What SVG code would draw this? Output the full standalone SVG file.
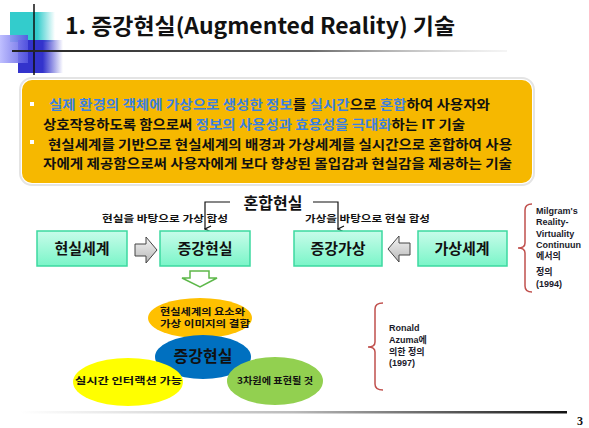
<svg xmlns="http://www.w3.org/2000/svg" width="589" height="428" viewBox="0 0 589 428">
<defs>
<linearGradient id="teal" x1="0" y1="0" x2="1" y2="0"><stop offset="0" stop-color="#33CCCC"/><stop offset="0.6" stop-color="#33CCCC"/><stop offset="1" stop-color="#33CCCC" stop-opacity="0"/></linearGradient>
<linearGradient id="dblue" x1="0" y1="0" x2="1" y2="0"><stop offset="0" stop-color="#3333CC"/><stop offset="0.55" stop-color="#3333CC"/><stop offset="1" stop-color="#3333CC" stop-opacity="0"/></linearGradient>
<linearGradient id="lblue" x1="0" y1="0" x2="1" y2="0"><stop offset="0" stop-color="#B8B8FF"/><stop offset="1" stop-color="#5555E0"/></linearGradient>
<linearGradient id="hline" x1="0" y1="0" x2="1" y2="0"><stop offset="0" stop-color="#222"/><stop offset="0.6" stop-color="#666"/><stop offset="1" stop-color="#ddd" stop-opacity="0.3"/></linearGradient>
<linearGradient id="bline" x1="0" y1="0" x2="1" y2="0"><stop offset="0" stop-color="#fff"/><stop offset="0.5" stop-color="#bbb"/><stop offset="1" stop-color="#111"/></linearGradient>
<linearGradient id="box" x1="0" y1="0" x2="0" y2="1"><stop offset="0" stop-color="#C8FCEA"/><stop offset="1" stop-color="#7AF5C8"/></linearGradient>
<linearGradient id="garrow" x1="0" y1="0" x2="0" y2="1"><stop offset="0" stop-color="#F4F4F4"/><stop offset="1" stop-color="#B8B8B8"/></linearGradient>
<marker id="ah" markerWidth="8" markerHeight="8" refX="4" refY="7" orient="auto" markerUnits="userSpaceOnUse"><path d="M1,1 L4,7 L7,1" fill="none" stroke="#111" stroke-width="1.2"/></marker>
<style>
.k{font-family:"Noto Sans CJK KR","Liberation Sans",sans-serif;font-weight:bold}
.bt{font-size:13px;fill:#111}
.bl{fill:#3A80E0}
.node rect{fill:url(#box);stroke:#3CD9A0;stroke-width:1.5}
.nt{font-size:15px;fill:#111;text-anchor:middle}
.sm{font-size:9.5px;fill:#111}
.et{font-size:9px;fill:#111}
.ref{font-family:"Liberation Sans","Noto Sans CJK KR",sans-serif;font-weight:bold;font-size:9px;fill:#1a1a2a}
.brace{fill:none;stroke:#C0504D;stroke-width:1.5}
.conn{fill:none;stroke:#111;stroke-width:1.2}
</style>
</defs>
<rect width="589" height="428" fill="#fff"/>
<!-- title decoration -->
<rect x="10" y="12" width="45" height="30" fill="url(#teal)"/>
<rect x="18" y="40" width="45" height="33" fill="url(#dblue)"/>
<rect x="0" y="35" width="28" height="28" fill="url(#lblue)" opacity="0.9"/>
<line x1="34" y1="4" x2="34" y2="75" stroke="#111" stroke-width="1.5"/>
<rect x="12" y="50" width="495" height="2" fill="url(#hline)"/>
<text x="65" y="34" class="k" font-size="22" fill="#111" textLength="390" lengthAdjust="spacingAndGlyphs">1. 증강현실(Augmented Reality) 기술</text>
<!-- yellow box -->
<g id="desc">
<rect x="20" y="78" width="514" height="107" rx="12" fill="none" stroke="#E4E4E4" stroke-width="2"/>
<rect x="22" y="80" width="510" height="103" rx="10" fill="#F6B800"/>
<rect x="30" y="102" width="4" height="4" fill="#fff"/>
<rect x="30" y="140" width="4" height="4" fill="#fff"/>
<text x="49" y="109" class="k bt" textLength="441" lengthAdjust="spacingAndGlyphs"><tspan class="bl">실제 환경의 객체에 가상으로 생성한 정보</tspan>를 <tspan class="bl">실시간</tspan>으로 <tspan class="bl">혼합</tspan>하여 사용자와</text>
<text x="43" y="129" class="k bt" textLength="422" lengthAdjust="spacingAndGlyphs">상호작용하도록 함으로써 <tspan class="bl">정보의 사용성과 효용성을 극대화</tspan>하는 IT 기술</text>
<text x="48" y="149" class="k bt" textLength="464" lengthAdjust="spacingAndGlyphs">현실세계를 기반으로 현실세계의 배경과 가상세계를 실시간으로 혼합하여 사용</text>
<text x="43" y="168" class="k bt" textLength="469" lengthAdjust="spacingAndGlyphs">자에게 제공함으로써 사용자에게 보다 향상된 몰입감과 현실감을 제공하는 기술</text>
</g>
<!-- labels -->
<text x="273" y="209" class="k" font-size="16" fill="#111" text-anchor="middle">혼합현실</text>
<text x="102" y="222" class="k sm" textLength="126" lengthAdjust="spacingAndGlyphs">현실을 바탕으로 가상 합성</text>
<text x="305" y="222" class="k sm" textLength="125" lengthAdjust="spacingAndGlyphs">가상을 바탕으로 현실 합성</text>
<!-- connectors -->
<g id="connectors">
<path class="conn" d="M230,202 H205 V229" marker-end="url(#ah)"/>
<path class="conn" d="M313,202 H338 V229" marker-end="url(#ah)"/>
<path d="M135,244 H146 V237 L157,250 L146,263 V256 H135 Z" fill="url(#garrow)" stroke="#444" stroke-width="1"/>
<path d="M410,243 H399 V236 L388,249 L399,262 V255 H410 Z" fill="url(#garrow)" stroke="#444" stroke-width="1"/>
<path d="M190,271 H209 V278 H217 L200,287 L182,278 H190 Z" fill="#fff" stroke="#5DB84A" stroke-width="1.5"/>
</g>
<!-- nodes -->
<g id="real" class="node"><rect x="37" y="231" width="90" height="35"/><text x="82" y="254" class="k nt">현실세계</text></g>
<g id="ar" class="node"><rect x="160" y="231" width="90" height="35"/><text x="205" y="254" class="k nt">증강현실</text></g>
<g id="av" class="node"><rect x="294" y="231" width="88" height="35"/><text x="338" y="254" class="k nt">증강가상</text></g>
<g id="virtual" class="node"><rect x="418" y="231" width="89" height="35"/><text x="462" y="254" class="k nt">가상세계</text></g>
<!-- ellipses -->
<g id="e-combine"><ellipse cx="200" cy="318" rx="52" ry="20" fill="#FFC000"/><text x="160" y="315" class="k et" textLength="85" lengthAdjust="spacingAndGlyphs">현실세계의 요소와</text><text x="160" y="327" class="k et" textLength="90" lengthAdjust="spacingAndGlyphs">가상 이미지의 결합</text></g>
<g id="e-ar"><ellipse cx="203" cy="357" rx="48" ry="22" fill="#0070C0"/><text x="203" y="362" class="k" font-size="16" fill="#111" text-anchor="middle">증강현실</text></g>
<g id="e-rt"><ellipse cx="128" cy="382" rx="55" ry="24" fill="#FFFF00"/><text x="75" y="384" class="k et" textLength="107" lengthAdjust="spacingAndGlyphs">실시간 인터랙션 가능</text></g>
<g id="e-3d"><ellipse cx="275" cy="381" rx="48" ry="24" fill="#92D050"/><text x="237" y="384" class="k et" textLength="76" lengthAdjust="spacingAndGlyphs">3차원에 표현될 것</text></g>
<!-- braces -->
<g id="milgram">
<path class="brace" d="M532,204 Q525,204 525,210 V243 Q525,248 518,248 Q525,248 525,253 V286 Q525,292 532,292"/>
<text class="ref" x="536" y="214">Milgram's</text>
<text class="ref" x="536" y="225">Reality-</text>
<text class="ref" x="536" y="236.5">Virtuality</text>
<text class="ref" x="536" y="248">Continuun</text>
<text class="ref" x="536" y="259">에서의</text>
<text class="ref" x="536" y="275">정의</text>
<text class="ref" x="536" y="287">(1994)</text>
</g>
<g id="azuma">
<path class="brace" d="M383,303 Q375,303 375,309 V342 Q375,347 368,347 Q375,347 375,352 V384 Q375,390 383,390"/>
<text class="ref" x="389" y="331">Ronald</text>
<text class="ref" x="389" y="343">Azuma에</text>
<text class="ref" x="389" y="355">의한 정의</text>
<text class="ref" x="389" y="366">(1997)</text>
</g>
<!-- footer -->
<rect x="20" y="411" width="547" height="2.5" fill="url(#bline)"/>
<text x="577" y="425" font-family="Liberation Serif,serif" font-weight="bold" font-size="12" fill="#111">3</text>
</svg>
